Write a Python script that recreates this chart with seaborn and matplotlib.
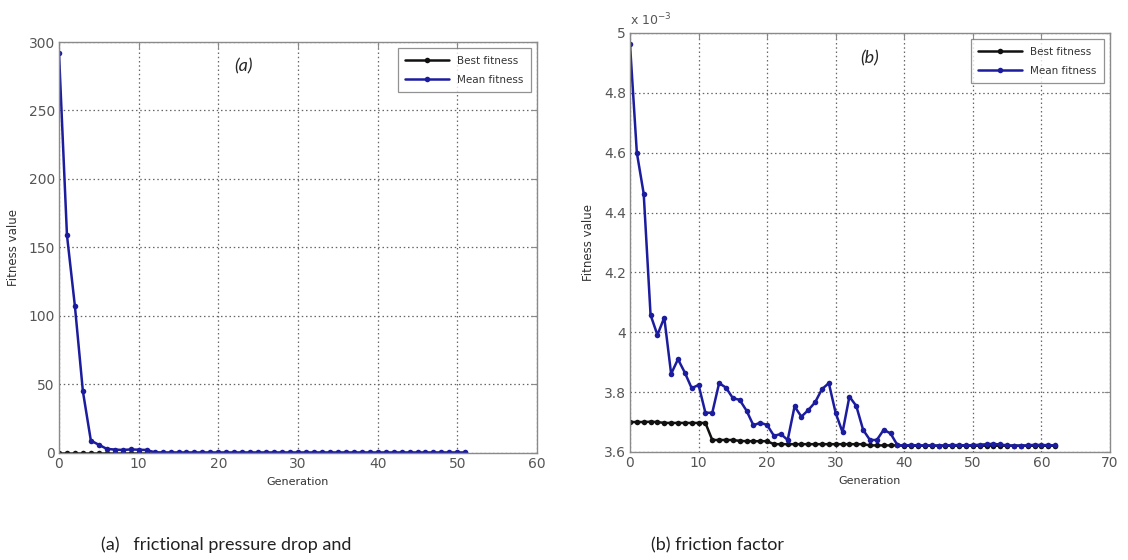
import matplotlib
matplotlib.use("Agg")
import pandas as pd
import matplotlib.pyplot as plt
import seaborn as sns
from matplotlib.ticker import FuncFormatter

# (a) frictional pressure drop
gen_a = list(range(52))
best_a = [0.3, 0.3, 0.3, 0.3, 0.3, 0.3, 0.3, 0.3, 0.3, 0.3, 0.3, 0.3, 0.3,
          0.3, 0.3, 0.3, 0.3, 0.3, 0.3, 0.3, 0.3, 0.3, 0.3, 0.3, 0.3, 0.3,
          0.3, 0.3, 0.3, 0.3, 0.3, 0.3, 0.3, 0.3, 0.3, 0.3, 0.3, 0.3, 0.3,
          0.3, 0.3, 0.3, 0.3, 0.3, 0.3, 0.3, 0.3, 0.3, 0.3, 0.3, 0.3, 0.3]
mean_a = [292, 159, 107, 45, 9, 6, 3, 2.5, 2.2, 2.6, 2.4, 2.2, 0.5,
          0.4, 0.4, 0.4, 0.4, 0.4, 0.4, 0.4, 0.4, 0.4, 0.4, 0.4, 0.4, 0.4,
          0.4, 0.4, 0.4, 0.4, 0.4, 0.4, 0.4, 0.4, 0.4, 0.4, 0.4, 0.4, 0.4,
          0.4, 0.4, 0.4, 0.4, 0.4, 0.4, 0.4, 0.4, 0.4, 0.4, 0.4, 0.4, 0.4]

# (b) friction factor, values in units of 1e-3
gen_b = list(range(63))
best_b = [3.700, 3.700, 3.700, 3.701, 3.700, 3.697, 3.697, 3.697, 3.697, 3.697,
          3.697, 3.697, 3.640, 3.640, 3.640, 3.640, 3.637, 3.636, 3.636, 3.636,
          3.636, 3.626, 3.626, 3.626, 3.626, 3.626, 3.626, 3.626, 3.626, 3.626,
          3.626, 3.626, 3.626, 3.626, 3.626, 3.622, 3.622, 3.622, 3.622, 3.622,
          3.621, 3.621, 3.621, 3.621, 3.621, 3.621, 3.621, 3.621, 3.621, 3.621,
          3.621, 3.621, 3.621, 3.621, 3.621, 3.621, 3.621, 3.621, 3.621, 3.621,
          3.621, 3.621, 3.621]
mean_b = [4.963, 4.600, 4.463, 4.058, 3.991, 4.049, 3.861, 3.910, 3.865, 3.813,
          3.824, 3.731, 3.731, 3.830, 3.815, 3.780, 3.774, 3.738, 3.689, 3.698,
          3.690, 3.654, 3.660, 3.640, 3.752, 3.718, 3.740, 3.766, 3.810, 3.830,
          3.730, 3.666, 3.785, 3.754, 3.674, 3.640, 3.640, 3.674, 3.662, 3.623,
          3.622, 3.623, 3.622, 3.622, 3.622, 3.621, 3.622, 3.623, 3.623, 3.622,
          3.623, 3.624, 3.626, 3.627, 3.625, 3.622, 3.621, 3.621, 3.622, 3.624,
          3.623, 3.623, 3.622]

df_a = pd.DataFrame({"Generation": gen_a + gen_a,
                     "Fitness": best_a + mean_a,
                     "series": ["Best fitness"] * len(gen_a) + ["Mean fitness"] * len(gen_a)})
df_b = pd.DataFrame({"Generation": gen_b + gen_b,
                     "Fitness": best_b + mean_b,
                     "series": ["Best fitness"] * len(gen_b) + ["Mean fitness"] * len(gen_b)})

sns.set_style("white")
plt.rcParams["font.family"] = ["DejaVu Sans"]

palette = {"Best fitness": "#111111", "Mean fitness": "#1c1c9e"}
tick_col = "#555555"

fig = plt.figure(figsize=(11.28, 5.6), dpi=100)
ax1 = fig.add_axes([0.0523, 0.1911, 0.4238, 0.7339])
ax2 = fig.add_axes([0.5585, 0.1929, 0.4255, 0.7482])

for ax, df in [(ax1, df_a), (ax2, df_b)]:
    sns.lineplot(data=df, x="Generation", y="Fitness", hue="series", palette=palette,
                 marker="o", markersize=4, markeredgewidth=0, linewidth=1.8,
                 ax=ax)
    ax.grid(True, linestyle=(0, (1.2, 2.2)), color="#666666", linewidth=0.9)
    for s in ax.spines.values():
        s.set_color("#8a8a8a")
        s.set_linewidth(1.0)
    ax.tick_params(direction="in", top=True, right=True, length=4, width=0.8,
                   colors="#8a8a8a", labelcolor=tick_col, labelsize=10, pad=3)
    ax.set_xlabel("Generation", fontsize=8, color="#333333", labelpad=4)
    ax.set_ylabel("Fitness value", fontsize=8.5, color="#333333", labelpad=6)
    leg = ax.legend(loc="upper right", fontsize=7.5, frameon=True, fancybox=False,
                    edgecolor="#777777", handlelength=4.2, borderaxespad=0.6,
                    labelspacing=0.9, borderpad=0.7)
    leg.get_frame().set_linewidth(0.9)
    for t in leg.get_texts():
        t.set_color("#333333")

ax1.set_xlim(0, 60)
ax1.set_ylim(0, 300)
ax1.set_xticks(range(0, 61, 10))
ax1.set_yticks(range(0, 301, 50))

ax2.set_xlim(0, 70)
ax2.set_ylim(3.6, 5.0)
ax2.set_xticks(range(0, 71, 10))
ax2.set_yticks([3.6, 3.8, 4.0, 4.2, 4.4, 4.6, 4.8, 5.0])
ax2.yaxis.set_major_formatter(FuncFormatter(lambda v, p: f"{v:g}"))
ax2.text(0.0, 1.012, r"x 10$^{-3}$", transform=ax2.transAxes, fontsize=9,
         color=tick_col, ha="left", va="bottom")

ax1.text(0.385, 0.94, "(a)", transform=ax1.transAxes, fontsize=13,
         style="italic", family="Lato", ha="center", va="center")
ax2.text(0.50, 0.94, "(b)", transform=ax2.transAxes, fontsize=13,
         style="italic", family="Lato", ha="center", va="center")

fig.text(101 / 1128, 0.027, "(a)   frictional pressure drop and", fontsize=13,
         family="Lato", color="#222222", ha="left", va="center")
fig.text(651 / 1128, 0.027, "(b) friction factor", fontsize=13,
         family="Lato", color="#222222", ha="left", va="center")

fig.savefig("out.png", dpi=100)
